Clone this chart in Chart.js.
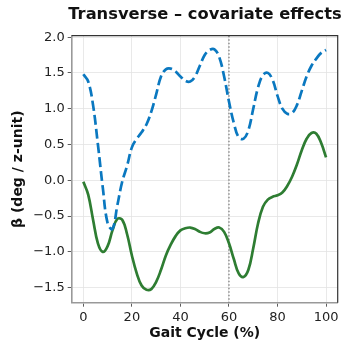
<!DOCTYPE html>
<html>
<head>
<meta charset="utf-8">
<script src="https://cdn.jsdelivr.net/npm/chart.js@4/dist/chart.umd.min.js"></script>
<style>
  html, body { margin: 0; padding: 0; background: #fff; }
  #chart { display: block; }
</style>
</head>
<body>
<canvas id="chart" width="344" height="347"></canvas>
<script>
// gait cycle samples (%)
const gaitPct = [0, 2, 4, 6, 8, 10, 12, 14, 16, 18, 20, 22, 24, 26, 28, 30, 32, 34, 36, 38, 40,
  42, 44, 46, 48, 50, 52, 54, 56, 58, 60, 62, 64, 66, 68, 70, 72, 74, 76, 78, 80,
  82, 84, 86, 88, 90, 92, 94, 96, 98, 100];

// covariate effect A (dashed blue)
const betaA = [1.48, 1.38, 1.05, 0.5, -0.1, -0.6, -0.68, -0.35, -0.02, 0.2, 0.46, 0.58, 0.67, 0.78, 0.96, 1.2, 1.45, 1.55, 1.56, 1.52, 1.45,
  1.39, 1.38, 1.45, 1.6, 1.75, 1.82, 1.83, 1.72, 1.45, 1.1, 0.8, 0.6, 0.58, 0.7, 1.0, 1.3, 1.47, 1.5, 1.4, 1.18,
  1.0, 0.93, 0.94, 1.05, 1.25, 1.45, 1.6, 1.7, 1.78, 1.82];

// covariate effect B (solid green)
const betaB = [-0.02, -0.2, -0.55, -0.88, -1.0, -0.92, -0.7, -0.54, -0.55, -0.75, -1.05, -1.3, -1.47, -1.53, -1.52, -1.42, -1.25, -1.05, -0.9, -0.78, -0.7,
  -0.67, -0.66, -0.68, -0.72, -0.74, -0.73, -0.68, -0.66, -0.72, -0.88, -1.1, -1.3, -1.35, -1.25, -0.95, -0.6, -0.37, -0.27, -0.23, -0.21,
  -0.17, -0.08, 0.05, 0.22, 0.42, 0.58, 0.66, 0.65, 0.52, 0.32];

const xTicks = [0, 20, 40, 60, 80, 100];
const yTicks = [-1.5, -1.0, -0.5, 0.0, 0.5, 1.0, 1.5, 2.0];
const toeOffPct = 60;

const FONT = "'DejaVu Sans', sans-serif";
const toPoints = ys => gaitPct.map((x, i) => ({ x, y: ys[i] }));
const minusSign = s => s.replace('-', '\u2212');

// title, axis titles, box edges and the toe-off marker
const decorations = {
  id: 'decorations',
  beforeDatasetsDraw(chart) {
    const { ctx, chartArea: a, scales } = chart;
    const xv = scales.x.getPixelForValue(toeOffPct);
    ctx.save();
    ctx.strokeStyle = '#777';
    ctx.lineWidth = 1.2;
    ctx.setLineDash([1.5, 2]);
    ctx.beginPath();
    ctx.moveTo(xv, a.top);
    ctx.lineTo(xv, a.bottom);
    ctx.stroke();
    ctx.restore();
  },
  afterDraw(chart) {
    const { ctx, chartArea: a } = chart;
    ctx.save();
    ctx.strokeStyle = '#333';
    ctx.lineWidth = 1.2;
    ctx.beginPath();
    ctx.moveTo(a.left, a.top);
    ctx.lineTo(a.right, a.top);
    ctx.lineTo(a.right, a.bottom);
    ctx.stroke();

    ctx.fillStyle = '#111';
    ctx.textAlign = 'center';
    ctx.textBaseline = 'middle';
    ctx.font = `bold 16.3px ${FONT}`;
    ctx.fillText('Transverse \u2013 covariate effects', 205, 15);
    ctx.font = `bold 14px ${FONT}`;
    ctx.fillText('Gait Cycle (%)', (a.left + a.right) / 2, 333);
    ctx.translate(18, (a.top + a.bottom) / 2);
    ctx.rotate(-Math.PI / 2);
    ctx.fillText('\u03b2 (deg / z-unit)', 0, 0);
    ctx.restore();
  }
};

new Chart(document.getElementById('chart'), {
  type: 'line',
  data: {
    datasets: [
      {
        label: 'A',
        data: toPoints(betaA),
        borderColor: '#0a78c0',
        borderWidth: 2.7,
        borderDash: [10, 4.2],
        pointRadius: 0,
        tension: 0.4,
        fill: false
      },
      {
        label: 'B',
        data: toPoints(betaB),
        borderColor: '#2e7d32',
        borderWidth: 2.7,
        pointRadius: 0,
        tension: 0.4,
        fill: false
      }
    ]
  },
  options: {
    responsive: false,
    animation: false,
    layout: { padding: { left: 0, right: 6.3, top: 35.7, bottom: 0 } },
    plugins: { legend: { display: false }, tooltip: { enabled: false }, title: { display: false } },
    scales: {
      x: {
        type: 'linear',
        min: -4.8,
        max: 104.8,
        afterBuildTicks: s => { s.ticks = xTicks.map(value => ({ value })); },
        afterFit: s => { s.height = 44.3; },
        grid: { color: '#e3e3e3', lineWidth: 0.8, tickColor: '#333', tickLength: 4 },
        border: { color: '#999', width: 1.6 },
        ticks: { color: '#222', font: { family: FONT, size: 13 }, padding: 3, maxRotation: 0 }
      },
      y: {
        min: -1.71,
        max: 2.02,
        afterBuildTicks: s => { s.ticks = yTicks.map(value => ({ value })); },
        afterFit: s => { s.width = 71.7; },
        grid: { color: '#e3e3e3', lineWidth: 0.8, tickColor: '#333', tickLength: 4 },
        border: { color: '#999', width: 1.6 },
        ticks: {
          color: '#222',
          font: { family: FONT, size: 13 },
          padding: 3,
          callback: v => minusSign(v.toFixed(1))
        }
      }
    }
  },
  plugins: [decorations]
});
</script>
</body>
</html>
